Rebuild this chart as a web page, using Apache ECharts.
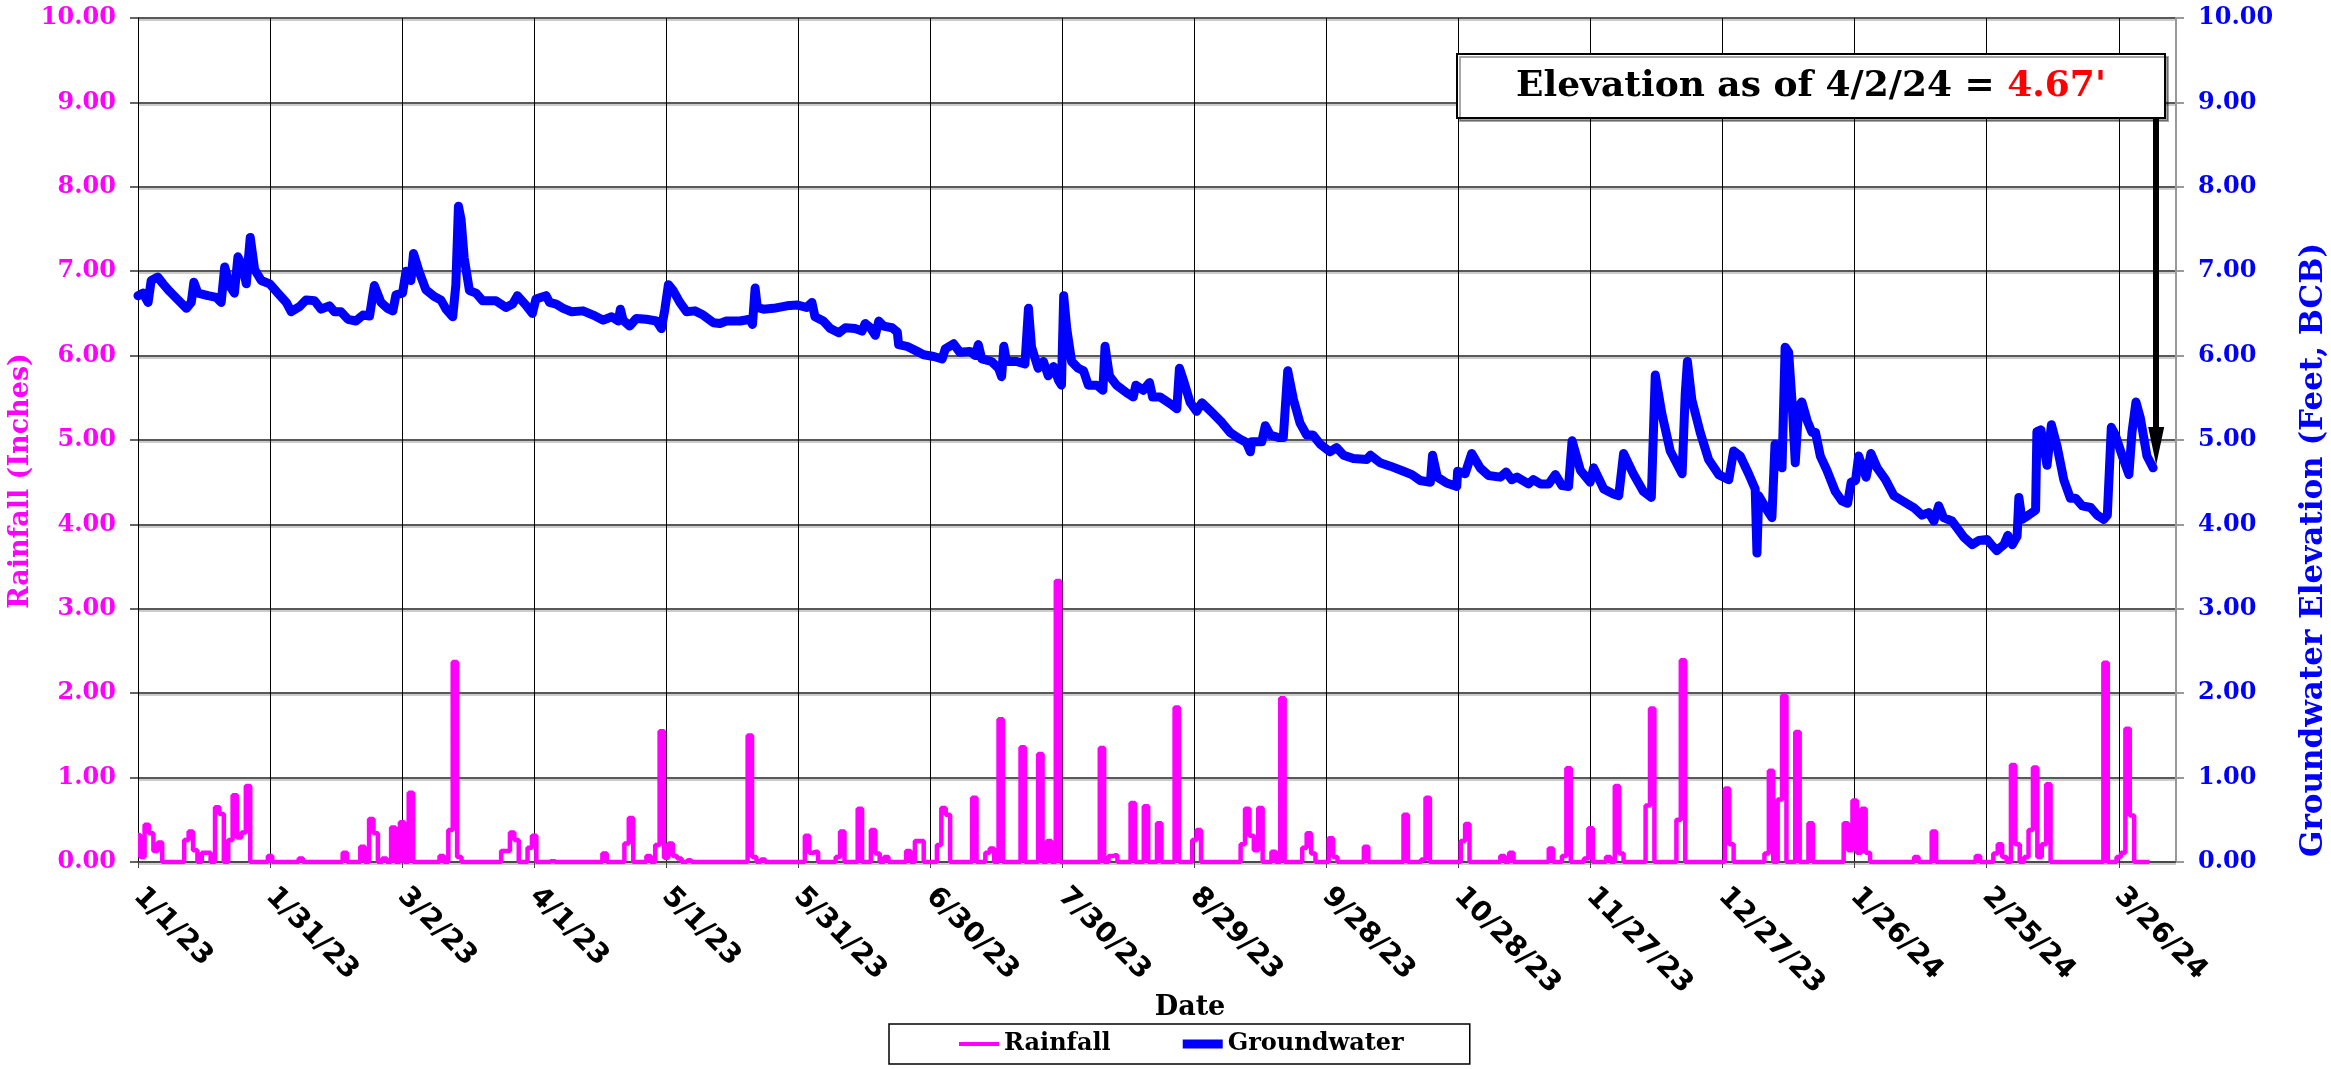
<!DOCTYPE html>
<html>
<head>
<meta charset="utf-8">
<script src="https://cdn.jsdelivr.net/npm/echarts@6/dist/echarts.min.js"></script>
<style>
html,body{margin:0;padding:0;background:#fff;}
#chart{width:2331px;height:1069px;}
</style>
</head>
<body>
<div id="chart"></div>
<script>
// ---------- DATA ----------
// x values are days since 1/1/23
const startDate = '2023-01-01';
const xTickStepDays = 30;
const xMaxDay = 463;
const yTicks = [0,1,2,3,4,5,6,7,8,9,10];

// Groundwater elevation (Feet, BCB)
const gwDay = [0,1.1,2.3,3,4.5,5.7,7.2,9.1,11,12.1,12.7,13.6,15.9,17.8,18.9,19.7,20.8,21.9,22.7,23.8,24.6,25.5,26.5,28,29.9,31.8,33.7,34.8,36.7,38.2,40.1,41.6,43.5,44.6,46.1,47.7,49.5,51.1,52.6,53.7,55.2,56.7,57.9,58.6,60.1,60.9,62,62.6,63.9,65.4,67.3,68.8,70,71.5,72.2,72.8,73.4,74.1,75.3,76.8,78.3,81.3,83.6,85.1,86.2,88.1,89.6,90.4,92.7,
93.5,95,96.6,98.5,101.1,103.4,105.7,107.6,109.1,109.6,110.2,111.7,113.2,115.5,117.8,118.9,119.7,120.5,121.6,123.1,124.6,126.5,128.4,130.7,132.2,133.7,136.8,139,139.6,140.2,140.7,142.1,144.4,147.4,149.7,151.9,153.1,153.8,155.7,157.3,159.2,160.7,162.9,164.5,165.2,166.4,167.5,168.3,169.4,171.3,172.5,172.8,174.7,177,178.5,180.8,182.7,183.4,185.3,
186.7,189,190.2,190.9,191.7,193.9,195.5,196.2,196.7,197.3,199.6,201.5,202.3,203,204.5,205.7,206.8,208,209.1,209.8,210.3,211,212.1,213.6,214.8,215.9,217.8,219.2,219.7,220.7,222.3,224.6,226.1,226.7,228.4,229.8,230.5,232.2,234.5,236,236.6,237.5,239,240.5,241.7,244.3,246.2,248.1,250.4,251.8,252.7,253,255.3,256.1,257.2,259.1,260.2,261.2,262.5,264,265.5,266.9,268.6,270.8,272.3,273.9,276.1,279.2,
280,282.2,284.5,287.5,289.4,291.3,293.6,294.1,295.2,297.3,299.6,299.8,301.5,303,304.9,306.8,309.5,310.8,312.1,313.3,315.9,317,318.6,320.5,322,323.5,325,325.8,327.7,329.9,330.7,333,335.2,336.4,337.5,339.8,342,343.8,344.7,346.2,348.1,350.8,351.5,352,353,354.9,356.8,359.1,361.4,362.5,364,365.9,367.4,367.8,368.2,370.1,
371.2,371.9,373.5,374.2,375,375.8,376.5,377.3,378,379.2,380.3,381.1,382.2,383.7,385.6,387.1,388.4,389.2,390.2,390.9,392.6,393.7,395.1,397,398.9,400.8,403.4,405.3,406.8,408,409.1,410.2,412.1,414.8,416.7,418.2,420.1,421.2,422.3,423.9,424.8,425.8,426.9,427.3,428,429.5,431.1,431.4,432.3,433.7,434.7,436,437.5,439,440.2,441.7,443.6,445.1,446.6,447.4,448.3,449.2,450.8,452.3,453,453.9,454.9,456.4,457.8];
const gwLevel = [6.71,6.74,6.63,6.89,6.93,6.85,6.76,6.66,6.56,6.63,6.87,6.74,6.71,6.69,6.63,7.05,6.83,6.74,7.17,7.05,6.85,7.40,7.02,6.89,6.85,6.74,6.63,6.52,6.58,6.66,6.65,6.55,6.59,6.52,6.52,6.43,6.41,6.48,6.47,6.83,6.63,6.56,6.53,6.72,6.74,7.00,6.89,7.21,6.99,6.78,6.70,6.66,6.55,6.46,6.83,7.77,7.61,7.16,6.77,6.74,6.65,6.65,6.57,6.61,6.71,6.60,6.50,6.67,6.71,
6.63,6.61,6.56,6.52,6.53,6.48,6.42,6.46,6.41,6.55,6.42,6.35,6.44,6.43,6.41,6.32,6.55,6.84,6.77,6.63,6.52,6.53,6.48,6.39,6.38,6.41,6.41,6.43,6.37,6.80,6.57,6.55,6.56,6.59,6.60,6.57,6.63,6.46,6.41,6.32,6.27,6.33,6.32,6.29,6.38,6.33,6.24,6.41,6.35,6.33,6.28,6.13,6.11,6.05,6.01,5.99,5.96,6.08,6.14,
6.04,6.05,6.00,6.13,5.96,5.93,5.85,5.75,6.11,5.93,5.93,5.90,6.56,6.10,5.85,5.93,5.76,5.87,5.71,5.65,6.71,6.32,5.93,5.85,5.82,5.65,5.65,5.59,6.11,5.76,5.65,5.56,5.51,5.65,5.59,5.68,5.51,5.51,5.43,5.37,5.85,5.71,5.45,5.34,5.44,5.31,5.21,5.09,5.01,4.97,4.86,4.98,4.98,5.17,5.06,5.03,5.03,5.82,5.48,5.20,5.06,5.06,4.95,4.86,4.91,4.82,4.78,4.77,
4.82,4.73,4.69,4.63,4.59,4.52,4.50,4.82,4.56,4.49,4.45,4.63,4.60,4.84,4.67,4.58,4.56,4.62,4.53,4.56,4.48,4.53,4.48,4.48,4.59,4.46,4.45,4.99,4.64,4.50,4.67,4.42,4.36,4.34,4.84,4.59,4.39,4.32,5.77,5.31,4.87,4.60,5.54,5.93,5.48,5.09,4.77,4.59,4.53,4.87,4.81,4.60,4.42,3.66,4.34,4.17,
4.08,4.95,4.67,6.10,6.04,5.43,4.73,5.40,5.45,5.23,5.09,5.09,4.81,4.64,4.39,4.28,4.25,4.50,4.52,4.81,4.56,4.84,4.67,4.53,4.34,4.28,4.20,4.11,4.14,4.04,4.22,4.08,4.04,3.85,3.76,3.81,3.82,3.75,3.69,3.76,3.87,3.76,3.86,4.32,4.06,4.11,4.17,5.10,5.12,4.70,5.18,4.92,4.53,4.31,4.31,4.22,4.20,4.11,4.06,4.11,5.15,5.06,4.81,4.59,5.09,5.45,5.26,4.81,4.67];

// Daily rainfall (Inches): days with rain; all other days 0
const rainDay = [0,1,2,3,4,5,11,12,13,15,16,18,19,21,22,23,24,25,30,37,47,51,53,54,56,58,60,62,69,71,72,73,83,84,85,86,89,90,94,
106,111,112,116,118,119,120,121,122,123,125,139,140,142,152,153,154,159,160,164,167,168,170,175,177,178,182,183,184,
190,193,194,196,201,205,207,209,219,221,222,226,229,232,236,240,241,251,252,253,254,255,258,260,265,266,267,271,272,279,
288,292,293,301,302,310,312,321,324,325,329,330,334,336,337,343,344,350,351,361,362,370,371,373,374,377,380,
388,389,390,391,392,393,404,408,418,422,423,424,426,427,429,430,431,432,433,434,447,450,451,452,453];
const rainInches = [0.32,0.06,0.44,0.34,0.13,0.23,0.26,0.36,0.14,0.11,0.11,0.65,0.57,0.26,0.79,0.29,0.35,0.90,0.07,0.04,0.11,0.18,0.51,0.34,0.04,0.41,0.47,0.82,0.07,0.38,2.37,0.06,0.13,0.13,0.35,0.26,0.17,0.31,0.01,
0.10,0.22,0.52,0.07,0.20,1.55,0.05,0.22,0.07,0.04,0.02,1.50,0.06,0.03,0.31,0.11,0.12,0.06,0.36,0.63,0.38,0.10,0.06,0.13,0.25,0.25,0.20,0.64,0.56,
0.76,0.11,0.16,1.69,1.36,1.28,0.25,3.33,1.35,0.07,0.08,0.70,0.66,0.46,1.83,0.26,0.38,0.21,0.63,0.31,0.14,0.64,0.12,1.94,0.17,0.34,0.10,0.28,0.06,0.18,
0.56,0.03,0.76,0.25,0.45,0.07,0.11,0.16,0.07,1.11,0.04,0.40,0.06,0.90,0.10,0.67,1.82,0.50,2.39,0.87,0.21,0.10,1.08,0.74,1.97,1.54,0.46,
0.46,0.14,0.73,0.11,0.63,0.11,0.06,0.36,0.07,0.10,0.21,0.06,1.15,0.21,0.06,0.38,1.12,0.06,0.21,0.92,2.36,0.06,0.11,1.58,0.55];
const rainLastDay = 457;

// ---------- BUILD ----------
const DAY_MS = 86400000;
const startMs = Date.parse(startDate + 'T00:00:00Z');
function dayLabel(d){
  const dt = new Date(startMs + d*DAY_MS);
  return (dt.getUTCMonth()+1) + '/' + dt.getUTCDate() + '/' + String(dt.getUTCFullYear()).slice(2);
}
const rainMap = {};
rainDay.forEach((d,i)=>{ rainMap[d] = rainInches[i]; });
const rainSeries = [];
for (let d=0; d<=rainLastDay; d++) rainSeries.push([d, rainMap[d] || 0]);
const gwSeries = gwDay.map((d,i)=>[d, gwLevel[i]]);

// legend line icons (40x24 box, bar of given thickness centred)
function lineIcon(t){
  const a = 12 - t/2, b = 12 + t/2;
  return 'path://M0,0L0.01,0L0,0.01Z M0,'+a+'L40,'+a+'L40,'+b+'L0,'+b+'Z M40,24L39.99,24L40,23.99Z';
}

const SERIF = "'DejaVu Serif', serif";
const chart = echarts.init(document.getElementById('chart'));
chart.setOption({
  animation:false,
  backgroundColor:'#fff',
  grid:{left:138, right:155, top:18, bottom:207},
  legend:{
    data:[{name:'Rainfall', icon:lineIcon(4), itemStyle:{color:'#FF00FF'}},
          {name:'Groundwater', icon:lineIcon(9), itemStyle:{color:'#0000FF'}}],
    left:889, top:1024, orient:'horizontal',
    itemWidth:40, itemHeight:24, itemGap:72,
    padding:[8,66,8,70],
    borderColor:'#000', borderWidth:1.5,
    textStyle:{fontFamily:SERIF, fontWeight:'bold', fontSize:24, color:'#000'}
  },
  xAxis:{
    type:'value', min:0, max:xMaxDay, interval:xTickStepDays,
    axisLine:{show:true, onZero:false, lineStyle:{color:'#444', width:1.5}},
    axisTick:{show:true, length:6, lineStyle:{color:'#444'}},
    splitLine:{show:true, lineStyle:{color:'#000', width:1}},
    axisLabel:{rotate:-45, margin:30, showMaxLabel:false, formatter:dayLabel,
      fontFamily:"'DejaVu Sans', sans-serif", fontWeight:'bold', fontSize:28, color:'#000'}
  },
  yAxis:[{
    type:'value', position:'left', min:yTicks[0], max:yTicks[yTicks.length-1], interval:yTicks[1]-yTicks[0],
    axisLine:{show:true, lineStyle:{color:'#000', width:1}},
    axisTick:{show:true, length:8, lineStyle:{color:'#333', width:1.5}},
    axisLabel:{margin:22, formatter:v=>v.toFixed(2), fontFamily:SERIF, fontWeight:'bold', fontSize:24, color:'#FF00FF'},
    splitLine:{show:true, lineStyle:{color:'#222', width:1.5, shadowColor:'#bbb', shadowOffsetY:2}}
  },{
    type:'value', position:'right', min:yTicks[0], max:yTicks[yTicks.length-1], interval:yTicks[1]-yTicks[0],
    axisLine:{show:true, lineStyle:{color:'#999', width:2}},
    axisTick:{show:true, length:8, lineStyle:{color:'#999', width:2}},
    axisLabel:{margin:22, formatter:v=>v.toFixed(2), fontFamily:SERIF, fontWeight:'bold', fontSize:24, color:'#0000FF'},
    splitLine:{show:false}
  }],
  series:[{
    name:'Rainfall', type:'line', yAxisIndex:0, data:rainSeries, step:'middle',
    symbol:'none', color:'#FF00FF',
    lineStyle:{color:'#FF00FF', width:4.5}, z:3
  },{
    name:'Groundwater', type:'line', yAxisIndex:1, data:gwSeries,
    symbol:'none', color:'#0000FF',
    lineStyle:{color:'#0000FF', width:9, cap:'round', join:'round'}, z:4,
    markLine:{
      silent:true, symbol:['none','triangle'], symbolSize:[16,38],
      lineStyle:{color:'#000', width:6, type:'solid'},
      label:{show:false},
      data:[[{coord:[458.5, 9.0]},{coord:[458.5, 4.93]}]]
    }
  }],
  graphic:[
    {type:'rect', z:100, shape:{x:1457, y:54, width:708, height:64},
     style:{fill:'#fff', stroke:'#000', lineWidth:2, shadowColor:'rgba(0,0,0,0.35)', shadowOffsetX:3, shadowOffsetY:3}},
    {type:'text', z:101, x:1811, y:87,
     style:{text:"{a|Elevation as of 4/2/24 = }{b|4.67'}", align:'center', verticalAlign:'middle',
       rich:{a:{fontFamily:SERIF, fontWeight:'bold', fontSize:36, fill:'#000', color:'#000'},
             b:{fontFamily:SERIF, fontWeight:'bold', fontSize:36, fill:'#FF0000', color:'#FF0000'}}}},
    {type:'text', x:1190, y:1008,
     style:{text:'Date', align:'center', verticalAlign:'middle', font:"bold 27px 'DejaVu Serif'", fill:'#000'}},
    {type:'text', x:21, y:481, rotation:Math.PI/2,
     style:{text:'Rainfall (Inches)', align:'center', verticalAlign:'middle', font:"bold 27px 'DejaVu Serif'", fill:'#FF00FF'}},
    {type:'text', x:2314, y:550, rotation:Math.PI/2,
     style:{text:'Groundwater Elevation (Feet, BCB)', align:'center', verticalAlign:'middle', font:"bold 31px 'DejaVu Serif'", fill:'#0000FF'}}
  ]
});
</script>
</body>
</html>
